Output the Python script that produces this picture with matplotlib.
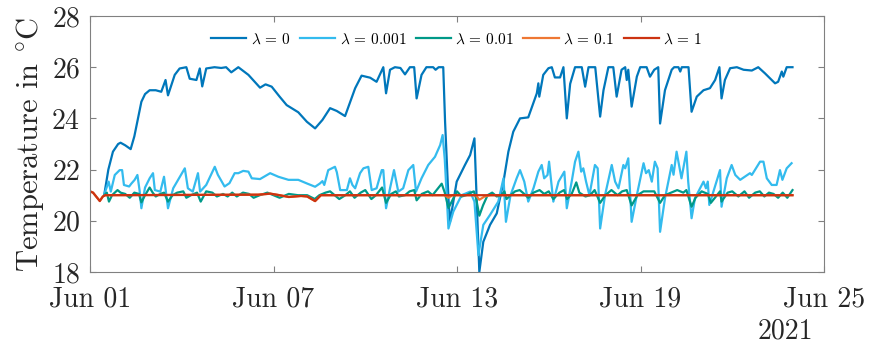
import numpy as np
import pandas as pd
import matplotlib
matplotlib.use('Agg')
import matplotlib.pyplot as plt
import matplotlib.dates as mdates

# time axis: days after 2021-06-01 00:00, values in degC
t_l0 = [0.47, 0.6, 0.75, 0.92, 1.0, 1.15, 1.33, 1.45, 1.68, 1.8, 1.95, 2.15, 2.33, 2.47, 2.55,
        2.77, 2.93, 3.15, 3.26, 3.48, 3.59, 3.67, 3.8, 4.07, 4.29, 4.45, 4.62, 4.85, 5.18, 5.56,
        5.74, 5.94, 6.2, 6.43, 6.81, 7.09, 7.36, 7.6, 7.85, 8.07, 8.34, 8.67, 8.88, 9.16, 9.37,
        9.59, 9.68, 9.81, 9.97, 10.15, 10.3, 10.46, 10.6, 10.68, 10.84, 11.0, 11.22, 11.3, 11.4,
        11.55, 11.61, 11.72, 11.77, 11.99, 12.26, 12.43, 12.57, 12.73, 12.86, 13.08, 13.3, 13.52,
        13.68, 13.84, 14.06, 14.33, 14.61, 14.66, 14.69, 14.82, 14.99, 15.1, 15.2, 15.37, 15.48,
        15.59, 15.7, 15.86, 16.08, 16.19, 16.3, 16.52, 16.68, 16.79, 16.95, 17.11, 17.22, 17.38,
        17.5, 17.55, 17.6, 17.71, 17.88, 17.99, 18.2, 18.31, 18.45, 18.58, 18.64, 18.8, 19.02,
        19.1, 19.24, 19.3, 19.35, 19.57, 19.67, 19.84, 20.06, 20.27, 20.44, 20.58, 20.65, 20.76,
        20.93, 21.15, 21.37, 21.64, 21.85, 22.07, 22.4, 22.5, 22.62, 22.67, 22.78, 22.97]
y_l0 = [21.05, 22.0, 22.7, 23.0, 23.05, 22.95, 22.8, 23.3, 24.65, 24.95, 25.1, 25.1, 25.04, 25.5, 24.9,
        25.7, 25.95, 26.0, 25.55, 25.5, 25.95, 25.25, 25.95, 26.0, 25.97, 26.0, 25.8, 26.0, 25.7, 25.2,
        25.33, 25.24, 24.85, 24.52, 24.24, 23.87, 23.61, 23.94, 24.4, 24.29, 24.09, 25.18, 25.67, 25.59, 25.43,
        26.0, 24.98, 25.9, 26.0, 25.97, 25.72, 26.0, 26.0, 24.78, 25.7, 26.0, 26.0, 25.9, 26.0,
        26.0, 23.87, 20.88, 19.96, 21.53, 22.18, 22.57, 23.22, 18.0, 19.18, 19.84, 20.29, 21.53,
        22.7, 23.48, 24.0, 24.04, 24.98, 25.37, 24.85, 25.7, 25.96, 26.0, 25.6, 25.6, 26.0,
        24.0, 25.35, 26.0, 26.0, 25.24, 26.0, 26.0, 24.07, 25.1, 26.0, 26.0, 24.85, 25.9,
        26.0, 25.5, 25.9, 24.46, 25.63, 26.0, 26.0, 25.63, 25.9, 26.0, 23.8, 25.1, 25.9,
        26.0, 26.0, 25.83, 26.0, 26.0, 24.26, 24.85, 25.1, 25.18, 25.5, 26.0, 24.78, 25.5,
        25.96, 26.0, 25.9, 25.87, 26.0, 25.76, 25.37, 25.43, 25.83, 25.63, 26.0, 26.0]

t_l0001 = [0.47, 0.61, 0.68, 0.81, 0.97, 1.05, 1.11, 1.28, 1.35, 1.46, 1.55, 1.62, 1.68, 1.8, 1.95,
           2.06, 2.12, 2.3, 2.42, 2.55, 2.72, 2.88, 3.1, 3.2, 3.36, 3.53, 3.6, 3.8, 4.08, 4.18,
           4.4, 4.56, 4.73, 4.85, 5.01, 5.18, 5.29, 5.56, 5.89, 6.16, 6.49, 6.81, 7.09, 7.36, 7.52,
           7.6, 7.66, 7.79, 8.01, 8.07, 8.18, 8.4, 8.5, 8.58, 8.67, 8.83, 8.94, 9.1, 9.21, 9.37,
           9.54, 9.59, 9.68, 9.81, 9.94, 10.08, 10.24, 10.41, 10.57, 10.66, 10.84, 11.06, 11.28,
           11.45, 11.53, 11.6, 11.72, 11.88, 12.15, 12.43, 12.57, 12.7, 12.86, 13.08, 13.35, 13.52,
           13.6, 13.75, 13.95, 14.06, 14.2, 14.33, 14.5, 14.66, 14.77, 14.85, 14.96, 15.01, 15.08,
           15.15, 15.32, 15.51, 15.59, 15.75, 15.86, 15.97, 16.06, 16.13, 16.22, 16.33, 16.51,
           16.6, 16.68, 16.84, 17.06, 17.17, 17.28, 17.44, 17.5, 17.6, 17.71, 17.88, 18.1, 18.18,
           18.27, 18.37, 18.47, 18.56, 18.64, 18.8, 19.02, 19.08, 19.18, 19.34, 19.5, 19.56, 19.67,
           19.78, 20.06, 20.14, 20.2, 20.25, 20.4, 20.6, 20.65, 20.82, 20.98, 21.1, 21.26, 21.58,
           21.64, 21.91, 22.02, 22.13, 22.29, 22.45, 22.56, 22.64, 22.78, 22.94]
y_l0001 = [21.05, 21.53, 21.14, 21.79, 21.98, 21.98, 21.4, 21.34, 21.45, 21.6, 21.79, 21.2, 20.49, 21.3, 21.66,
           21.86, 21.2, 21.14, 21.72, 20.49, 21.27, 21.6, 22.05, 21.27, 21.14, 21.86, 21.14, 21.4, 22.11, 21.8,
           21.34, 21.47, 21.86, 21.86, 21.95, 21.92, 21.66, 21.63, 21.86, 21.72, 21.6, 21.6, 21.46, 21.33, 21.46,
           21.55, 21.4, 21.98, 22.11, 21.9, 21.2, 21.2, 21.66, 21.4, 21.27, 21.86, 22.05, 22.11, 21.2, 21.27,
           21.98, 21.98, 20.49, 21.27, 21.98, 21.14, 21.27, 21.98, 22.18, 21.14, 21.66, 22.18, 22.5,
           22.96, 23.35, 22.4, 19.7, 20.36, 21.0, 21.14, 20.75, 18.66, 19.84, 20.23, 20.75, 21.66,
           19.96, 21.0, 21.66, 21.98, 21.53, 20.75, 21.27, 21.92, 22.18, 21.66, 21.79, 22.31, 21.53,
           20.75, 21.53, 21.92, 20.49, 21.53, 22.31, 22.7, 21.92, 22.05, 21.53, 21.0, 22.18,
           22.05, 19.7, 21.0, 22.18, 21.53, 21.27, 22.18, 22.05, 22.44, 19.96, 21.0, 22.25, 21.86,
           21.98, 21.53, 22.31, 22.05, 19.57, 20.88, 22.18, 21.8, 22.7, 21.66, 22.7, 21.53, 20.1,
           20.88, 21.53, 21.27, 21.53, 20.62, 21.2, 21.98, 20.55, 21.66, 22.18, 21.79, 21.6, 21.86,
           21.79, 22.31, 22.31, 21.66, 21.4, 21.4, 21.98, 21.6, 22.05, 22.25]

t_l001 = [0.47, 0.55, 0.62, 0.72, 0.9, 1.0, 1.15, 1.3, 1.45, 1.6, 1.68, 1.8, 1.95, 2.05, 2.15, 2.3,
          2.42, 2.55, 2.7, 2.85, 3.05, 3.15, 3.3, 3.5, 3.62, 3.8, 4.0, 4.15, 4.35, 4.5, 4.65, 4.8,
          5.0, 5.2, 5.35, 5.55, 5.8, 6.0, 6.2, 6.5, 6.8, 7.1, 7.35, 7.5, 7.7, 7.85, 8.0, 8.15, 8.35,
          8.5, 8.65, 8.85, 9.0, 9.2, 9.35, 9.55, 9.68, 9.85, 10.0, 10.1, 10.3, 10.45, 10.6, 10.68,
          10.85, 11.05, 11.2, 11.4, 11.5, 11.6, 11.72, 11.85, 12.0, 12.15, 12.3, 12.45, 12.55, 12.62,
          12.73, 12.85, 13.0, 13.15, 13.3, 13.45, 13.55, 13.62, 13.75, 13.9, 14.05, 14.2, 14.33, 14.5,
          14.7, 14.85, 15.0, 15.15, 15.35, 15.5, 15.6, 15.75, 15.9, 16.0, 16.2, 16.35, 16.5, 16.68,
          16.85, 17.05, 17.25, 17.4, 17.55, 17.71, 17.9, 18.1, 18.3, 18.45, 18.64, 18.8, 19.0, 19.2,
          19.4, 19.5, 19.67, 19.8, 20.0, 20.2, 20.3, 20.5, 20.6, 20.65, 20.85, 21.0, 21.2, 21.4,
          21.55, 21.75, 21.9, 22.05, 22.2, 22.35, 22.5, 22.65, 22.8, 22.97]
y_l001 = [21.0, 21.1, 20.75, 21.0, 21.2, 21.1, 21.05, 20.9, 21.1, 21.05, 20.72, 21.0, 21.3, 21.1, 20.95, 21.05,
          21.1, 20.75, 21.0, 21.1, 21.15, 20.9, 21.0, 21.1, 20.75, 21.15, 21.1, 20.95, 21.05, 20.95, 21.1, 20.95,
          21.1, 21.05, 20.9, 21.0, 21.1, 21.0, 20.9, 21.05, 21.0, 21.0, 20.85, 21.0, 21.1, 21.15, 21.0, 20.85, 21.0,
          21.15, 20.9, 21.1, 21.2, 20.85, 21.0, 21.3, 20.7, 21.05, 21.15, 20.95, 21.0, 21.15, 21.2, 20.8,
          21.05, 21.15, 21.0, 21.3, 21.45, 21.1, 20.5, 20.8, 21.15, 20.95, 21.0, 21.1, 21.15, 20.9,
          20.2, 20.6, 21.0, 21.1, 20.95, 21.0, 21.15, 20.85, 21.0, 21.15, 21.2, 21.05, 20.9, 21.1,
          21.2, 21.05, 21.15, 20.85, 21.1, 21.2, 20.85, 21.05, 21.5, 21.1, 20.95, 21.0, 21.2, 20.7,
          21.0, 21.2, 21.0, 21.15, 21.2, 20.6, 21.0, 21.15, 21.15, 21.15, 20.7, 21.0, 21.1, 21.2,
          21.1, 21.2, 20.55, 20.9, 21.15, 21.05, 20.7, 21.0, 21.15, 20.75, 21.1, 21.15, 20.95, 21.15,
          20.9, 21.1, 21.15, 20.95, 21.1, 21.05, 20.9, 21.1, 20.9, 21.2]

t_l01 = [0.0, 0.1, 0.2, 0.32, 0.42, 0.5, 5.5, 5.9, 6.2, 6.5, 6.9, 7.1, 7.36, 7.55, 11.6, 11.72,
         11.85, 12.62, 12.73, 12.9, 13.1, 22.97]
y_l01 = [21.15, 21.1, 20.95, 20.78, 20.95, 21.0, 21.02, 21.06, 21.0, 20.93, 20.97, 20.95, 20.77, 21.0, 21.0, 20.9,
         21.0, 21.0, 20.82, 20.95, 21.0, 21.0]

t_l1 = [0.0, 0.1, 0.2, 0.32, 0.42, 0.5, 5.5, 5.9, 6.2, 6.5, 6.9, 7.1, 7.36, 7.55, 22.97]
y_l1 = [21.15, 21.1, 20.95, 20.77, 20.95, 21.0, 21.02, 21.06, 21.0, 20.93, 20.97, 20.95, 20.77, 21.0, 21.0]

labels = [r'$\lambda$ = 0', r'$\lambda$ = 0.001', r'$\lambda$ = 0.01', r'$\lambda$ = 0.1', r'$\lambda$ = 1']
colors = ['#0077BB', '#33BBEE', '#009988', '#EE7733', '#CC3311']
series = [(t_l0, y_l0), (t_l0001, y_l0001), (t_l001, y_l001), (t_l01, y_l01), (t_l1, y_l1)]

start = pd.Timestamp('2021-06-01')

def to_dates(days):
    return start + pd.to_timedelta(np.array(days), unit='D')

plt.rcParams['font.family'] = 'serif'
plt.rcParams['font.serif'] = ['cmr10']
plt.rcParams['mathtext.fontset'] = 'cm'
plt.rcParams['axes.formatter.use_mathtext'] = True

fig = plt.figure(figsize=(8.78, 3.45), dpi=100)
ax = fig.add_axes([90 / 878, 1 - 272 / 345, 734 / 878, 256 / 345])

for (t, y), lab, c in zip(series, labels, colors):
    ax.plot(to_dates(t), y, color=c, lw=1.6, label=lab)

ax.set_xlim(start, pd.Timestamp('2021-06-25'))
ax.set_ylim(18, 28)
ax.set_yticks([18, 20, 22, 24, 26, 28])
ax.set_xticks(to_dates([0, 6, 12, 18, 24]))
ax.xaxis.set_major_formatter(mdates.DateFormatter('%b %d'))

for s in ax.spines.values():
    s.set_color('#808080')
    s.set_linewidth(0.8)
ax.tick_params(direction='in', top=True, right=True, length=4, color='#808080',
               labelsize=20, labelcolor='#262626')
ax.tick_params(axis='x', pad=10)
ax.tick_params(axis='y', pad=7)

ax.set_ylabel(r'Temperature in $^{\circ}$C', fontsize=22, color='#262626', labelpad=4)
ax.text(0.947, -0.23, '2021', transform=ax.transAxes, ha='center', va='center',
        fontsize=20, color='#262626')

ax.legend(loc='upper center', ncol=5, frameon=False, fontsize=11,
          handlelength=2.3, columnspacing=0.6, handletextpad=0.3,
          bbox_to_anchor=(0.5, 0.99))

fig.savefig('out.png', dpi=100)
